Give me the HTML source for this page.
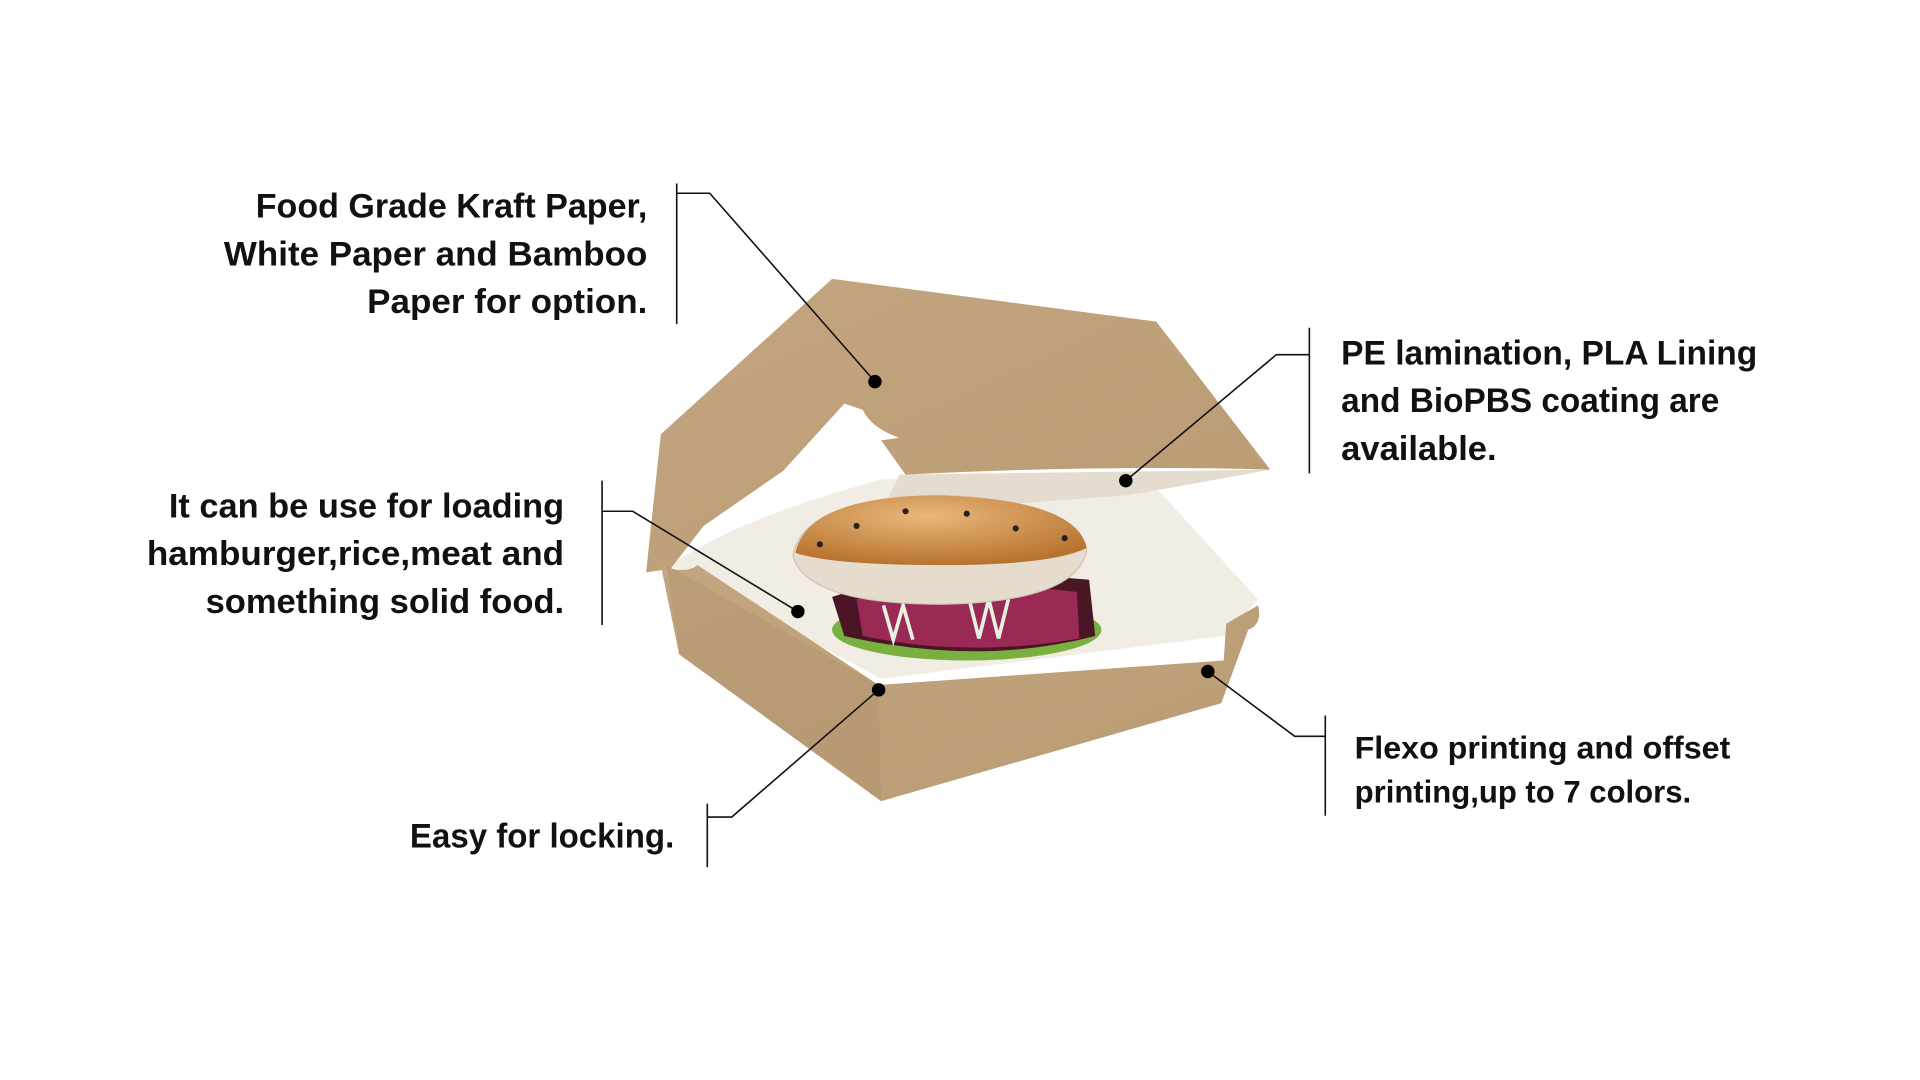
<!DOCTYPE html>
<html><head><meta charset="utf-8"><style>
html,body{margin:0;padding:0;background:#fff;width:1920px;height:1080px;overflow:hidden}
svg{display:block}
text{font-family:"Liberation Sans",sans-serif;font-weight:bold;fill:#111}
</style></head><body>
<svg width="1920" height="1080" viewBox="0 0 1569 883" preserveAspectRatio="none">
<defs>
<linearGradient id="k" x1="0" y1="0" x2="1" y2="1"><stop offset="0" stop-color="#c3a680"/><stop offset="1" stop-color="#b99b73"/></linearGradient>
<radialGradient id="bun" cx="0.45" cy="0.3" r="0.7"><stop offset="0" stop-color="#e8b87a"/><stop offset="1" stop-color="#b8732f"/></radialGradient>
</defs>
<!-- inner back -->
<path d="M548 462 Q600 425 720 392 L935 388 L1028 490 L1000 520 L720 555 Z" fill="#f1ece4"/>
<path d="M735 388 L1038 384 Q980 395 920 405 L720 420 Z" fill="#e4dccf"/>
<!-- lid -->
<path d="M680 228 L945 263 L1038 384 Q900 380 740 388 L720 360 L735 358 Q712 350 705 335 L690 330 L640 385 L575 430 L548 465 L528 468 L540 355 Z" fill="url(#k)"/>
<!-- burger -->
<ellipse cx="790" cy="515" rx="110" ry="25" fill="#79b040"/>
<path d="M680 488 Q760 462 890 474 L895 520 Q800 545 690 520 Z" fill="#4a1626"/>
<path d="M700 490 Q780 472 880 484 L882 522 Q790 538 705 520 Z" fill="#9a2a55"/>
<path d="M722 495 l8 28 l8 -28 l8 28 M792 490 l8 32 l8 -32 l8 32 l8 -32" stroke="#e8f0e0" stroke-width="3" fill="none"/>
<path d="M648 455 Q655 408 765 405 Q880 408 888 450 Q880 492 770 494 Q660 494 648 455 Z" fill="#e6dccd" stroke="#d2c4b0" stroke-width="1"/>
<path d="M650 452 Q660 406 765 405 Q880 408 888 448 Q860 462 770 462 Q680 462 650 452 Z" fill="url(#bun)"/>
<g fill="#222"><circle cx="700" cy="430" r="2.5"/><circle cx="740" cy="418" r="2.5"/><circle cx="790" cy="420" r="2.5"/><circle cx="830" cy="432" r="2.5"/><circle cx="870" cy="440" r="2.5"/><circle cx="670" cy="445" r="2.5"/></g>
<!-- front box -->
<path d="M540 462 Q560 470 570 462 L718 560 L1000 540 L1002 510 L1028 495 Q1032 510 1020 515 L998 575 L720 655 L555 535 Z" fill="url(#k)"/>
<path d="M545 462 L718 560 L720 655 L555 535 Z" fill="#a88a66" opacity="0.3"/>
<!-- leaders -->
<g stroke="#111" stroke-width="1.3" fill="none">
<path d="M553 150 V265 M553 158 H580 L715 312"/>
<path d="M1070 268 V387 M1070 290 H1043 L920 393"/>
<path d="M492 393 V511 M492 418 H517 L652 500"/>
<path d="M578 657 V709 M578 668 H598 L718 564"/>
<path d="M1083 585 V667 M1083 602 H1058 L987 549"/>
</g>
<g fill="#000"><circle cx="715" cy="312" r="5.5"/><circle cx="920" cy="393" r="5.5"/><circle cx="652" cy="500" r="5.5"/><circle cx="718" cy="564" r="5.5"/><circle cx="987" cy="549" r="5.5"/></g>
<g font-size="28" text-anchor="end">
<text x="529" y="178" textLength="320" lengthAdjust="spacingAndGlyphs">Food Grade Kraft Paper,</text>
<text x="529" y="217" textLength="346" lengthAdjust="spacingAndGlyphs">White Paper and Bamboo</text>
<text x="529" y="256" textLength="229" lengthAdjust="spacingAndGlyphs">Paper for option.</text>
<text x="461" y="423" textLength="323" lengthAdjust="spacingAndGlyphs">It can be use for loading</text>
<text x="461" y="462" textLength="341" lengthAdjust="spacingAndGlyphs">hamburger,rice,meat and</text>
<text x="461" y="501" textLength="293" lengthAdjust="spacingAndGlyphs">something solid food.</text>
<text x="551" y="693" textLength="216" lengthAdjust="spacingAndGlyphs">Easy for locking.</text>
</g>
<g font-size="28">
<text x="1096" y="298" textLength="340" lengthAdjust="spacingAndGlyphs">PE lamination, PLA Lining</text>
<text x="1096" y="337" textLength="309" lengthAdjust="spacingAndGlyphs">and BioPBS coating are</text>
<text x="1096" y="376" textLength="127" lengthAdjust="spacingAndGlyphs">available.</text>
</g>
<g font-size="26">
<text x="1107" y="620" textLength="307" lengthAdjust="spacingAndGlyphs">Flexo printing and offset</text>
<text x="1107" y="656" textLength="275" lengthAdjust="spacingAndGlyphs">printing,up to 7 colors.</text>
</g>
</svg>
</body></html>
